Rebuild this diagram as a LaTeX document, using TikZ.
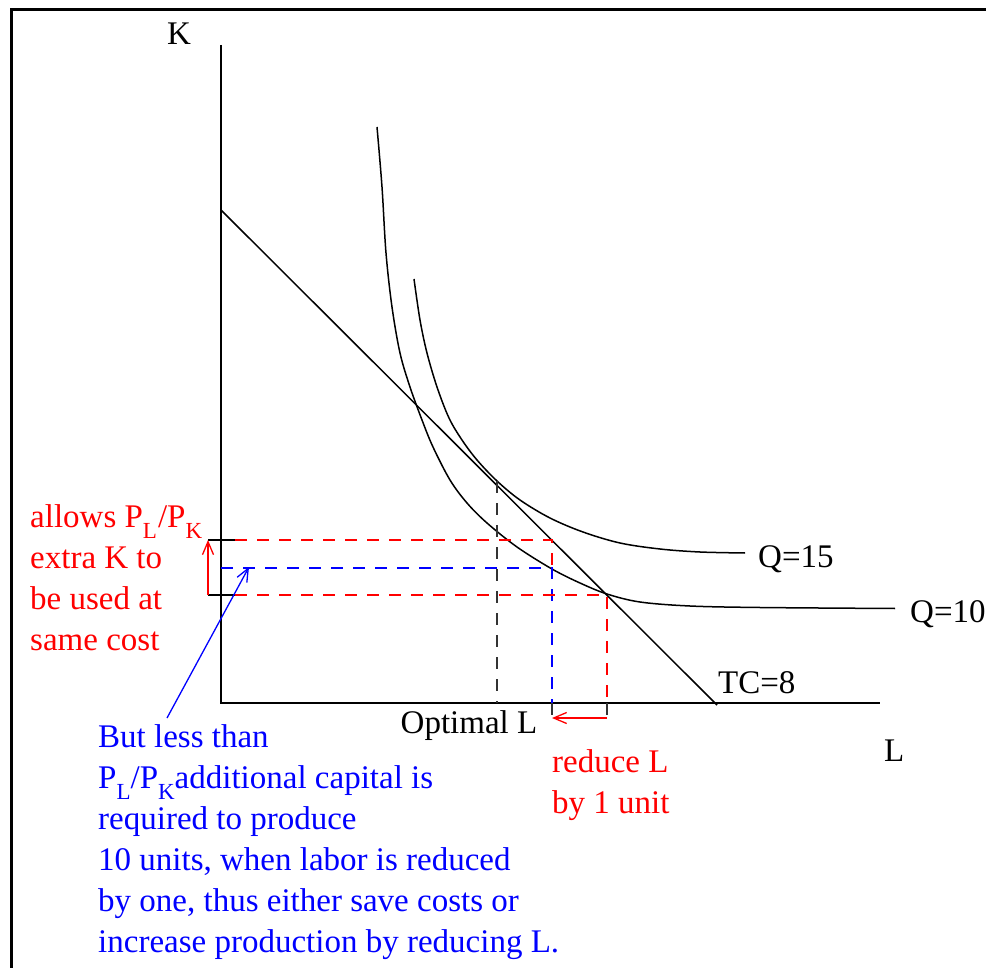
\documentclass[tikz,border=0pt]{standalone}
\usepackage{fontspec}
\setmainfont{Liberation Serif}
\usetikzlibrary{arrows.meta}
\newcommand{\lowsub}[1]{\raisebox{-0.36em}{\fontsize{23}{23}\selectfont #1}}

\begin{document}
\begin{tikzpicture}[
    x=1pt, y=-1pt,
    every node/.style={font=\fontsize{33}{41}\selectfont, inner sep=0pt},
    axis/.style={line width=1.5pt},
    curve/.style={line width=1.5pt},
    guide/.style={dash pattern=on 12pt off 10pt, line width=1.5pt},
    note/.style={align=left, anchor=base west},
    tip/.style={-{Straight Barb[length=13pt,width=11pt]}, line width=1.3pt}
]
\useasboundingbox (0,0) rectangle (986,968);
\draw[line width=3pt] (11.5,968) -- (11.5,10) -- (986,10);

% --- axes ---
\coordinate (Ktop) at (221,45);
\coordinate (O) at (221,703);
\coordinate (Lend) at (880,703);
\draw[axis] (Ktop) -- (O) -- (Lend);
\node[anchor=base west] (klab) at (167,45) {K};
\node[anchor=base west] (llab) at (884,761) {L};

% --- isocost line ---
\coordinate (tcA) at (221,210);
\coordinate (tcB) at (717,705);
\draw[curve] (tcA) -- (tcB);
\node[anchor=base west] (tc) at (718,693) {TC=8};

% --- isoquants ---
\draw[curve] plot[smooth, tension=0.55] coordinates {(377,127) (382,187) (386,253) (392,307) (400,353) (410,387) (422,420) (433,447) (450,480) (467,503) (487,523) (517,547) (552,569) (580,583) (607,594) (640,602) (690,606) (760,607.5) (895,608.5)};
\node[anchor=base west] (q10) at (910,622) {Q=10};
\draw[curve] plot[smooth, tension=0.55] coordinates {(414,279) (420,320) (427,353) (437,387) (449,418) (462,440) (477,460) (497,481) (520,500) (550,518) (583,532) (620,543) (660,549) (700,552) (745,553)};
\node[anchor=base west] (q15) at (758,567) {Q=15};

% --- guides ---
\coordinate (opt) at (497,481);
\coordinate (optL) at (497,703);
\coordinate (hiL) at (235,540);
\coordinate (hiR) at (552,540);
\coordinate (midL) at (221,568);
\coordinate (midR) at (552,568);
\coordinate (loL) at (235,595);
\coordinate (loR) at (607,595);
\coordinate (redL) at (552,703);
\coordinate (redR) at (607,703);
\coordinate (tickA) at (552,718);
\coordinate (tickB) at (607,718);
\draw[guide, black!80] (opt) -- (optL);
\draw[guide, red] (hiL) -- (hiR) -- (midR);
\draw[guide, blue] (midL) -- (midR) -- (redL);
\draw[guide, red] (loL) -- (loR) -- (redR);
\draw[guide, black!80] (redL) -- (tickA);
\draw[guide, black!80] (redR) -- (tickB);

% --- brace on the K axis ---
\coordinate (bHi) at (208,540);
\coordinate (bLo) at (208,595);
\draw[line width=1.5pt] (bHi) -- (hiL);
\draw[line width=1.5pt] (bLo) -- (loL);
\draw[tip, red] (bLo) -- (bHi);
\draw[tip, red] (tickB) -- (tickA);

% --- labels ---
\node[anchor=base] (optlab) at (469,733) {Optimal L};
\node[note, red] (redL1) at (552,813) {reduce L\\by 1 unit};
\node[note, red] (allow) at (30,650) {allows P\lowsub{L}\kern1pt/P\lowsub{K}\\extra K to\\be used at\\same cost};
\node[note, blue] (less) at (98,952) {But less than\\P\lowsub{L}/P\lowsub{K}additional capital is\\required to produce\\10 units, when labor is reduced\\by one, thus either save costs or\\increase production by reducing L.};
\coordinate (lessTop) at (167,718);
\coordinate (midPt) at (249,567);
\draw[tip, blue] (lessTop) -- (midPt);
\end{tikzpicture}
\end{document}
